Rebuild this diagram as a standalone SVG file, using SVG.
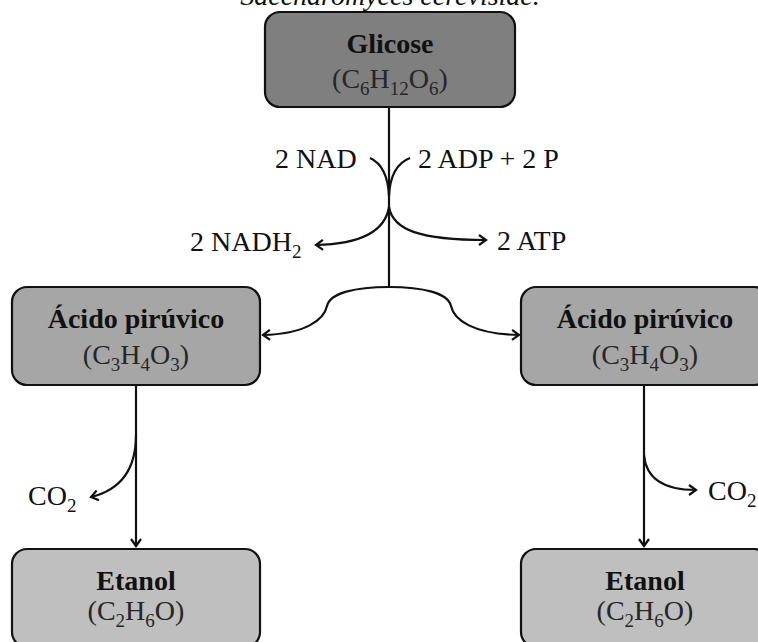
<svg xmlns="http://www.w3.org/2000/svg" width="758" height="642" viewBox="0 0 758 642">
<style>
text{font-family:"Liberation Serif","Times New Roman",serif;font-size:28px;fill:#111}
.t{font-weight:bold;text-anchor:middle}
.f{text-anchor:middle;fill:#262626}
.s{font-size:19px}
.box{stroke:#111;stroke-width:2.2}
.c{fill:none;stroke:#111;stroke-width:2.2}
</style>
<defs>
<marker id="a" markerWidth="12" markerHeight="12" refX="9" refY="6" orient="auto" markerUnits="userSpaceOnUse">
<polyline points="2,1 9,6 2,11" fill="none" stroke="#111" stroke-width="2.2"/>
</marker>
</defs>
<text x="390" y="5" style="font-style:italic;text-anchor:middle">Saccharomyces cerevisiae.</text>
<g id="connectors">
<line class="c" x1="389" y1="107" x2="389" y2="287"/>
<path class="c" d="M370,158 C381,163 388,175 389,196"/>
<path class="c" d="M410,158 C397,163 390,175 389,196"/>
<path class="c" d="M389,207 C385,232 360,244 316,245" marker-end="url(#a)"/>
<path class="c" d="M389,207 C393,230 420,240 486,240" marker-end="url(#a)"/>
<path class="c" d="M389,287 C355,287 330,293 327,306 C324,320 305,334 263,335" marker-end="url(#a)"/>
<path class="c" d="M389,287 C423,287 448,293 451,306 C454,320 473,334 519,335" marker-end="url(#a)"/>
<line class="c" x1="136" y1="385" x2="136" y2="546" marker-end="url(#a)"/>
<path class="c" d="M136,435 C136,470 120,490 91,497" marker-end="url(#a)"/>
<line class="c" x1="644" y1="385" x2="644" y2="546" marker-end="url(#a)"/>
<path class="c" d="M644,455 C646,478 662,490 696,490" marker-end="url(#a)"/>
</g>
<g id="labels">
<text x="275" y="168">2 NAD</text>
<text x="418" y="168">2 ADP + 2 P</text>
<text x="190" y="251">2 NADH<tspan class="s" dy="7">2</tspan></text>
<text x="497" y="250">2 ATP</text>
<text x="28" y="505">CO<tspan class="s" dy="7">2</tspan></text>
<text x="708" y="500">CO<tspan class="s" dy="7">2</tspan></text>
</g>
<g id="glicose">
<rect class="box" x="265" y="12" width="250" height="95" rx="15" fill="#7f7f7f"/>
<text class="t" x="390" y="53">Glicose</text>
<text class="f" x="390" y="88">(C<tspan class="s" dy="7">6</tspan><tspan dy="-7">H</tspan><tspan class="s" dy="7">12</tspan><tspan dy="-7">O</tspan><tspan class="s" dy="7">6</tspan><tspan dy="-7">)</tspan></text>
</g>
<g id="acido1">
<rect class="box" x="12" y="287" width="248" height="98" rx="15" fill="#a6a6a6"/>
<text class="t" x="136" y="328">Ácido pirúvico</text>
<text class="f" x="136" y="364">(C<tspan class="s" dy="7">3</tspan><tspan dy="-7">H</tspan><tspan class="s" dy="7">4</tspan><tspan dy="-7">O</tspan><tspan class="s" dy="7">3</tspan><tspan dy="-7">)</tspan></text>
</g>
<g id="acido2">
<rect class="box" x="521" y="287" width="248" height="98" rx="15" fill="#a6a6a6"/>
<text class="t" x="645" y="328">Ácido pirúvico</text>
<text class="f" x="645" y="364">(C<tspan class="s" dy="7">3</tspan><tspan dy="-7">H</tspan><tspan class="s" dy="7">4</tspan><tspan dy="-7">O</tspan><tspan class="s" dy="7">3</tspan><tspan dy="-7">)</tspan></text>
</g>
<g id="etanol1">
<rect class="box" x="12" y="549" width="248" height="98" rx="15" fill="#bfbfbf"/>
<text class="t" x="136" y="590">Etanol</text>
<text class="f" x="136" y="620">(C<tspan class="s" dy="7">2</tspan><tspan dy="-7">H</tspan><tspan class="s" dy="7">6</tspan><tspan dy="-7">O)</tspan></text>
</g>
<g id="etanol2">
<rect class="box" x="521" y="549" width="248" height="98" rx="15" fill="#bfbfbf"/>
<text class="t" x="645" y="590">Etanol</text>
<text class="f" x="645" y="620">(C<tspan class="s" dy="7">2</tspan><tspan dy="-7">H</tspan><tspan class="s" dy="7">6</tspan><tspan dy="-7">O)</tspan></text>
</g>
</svg>
